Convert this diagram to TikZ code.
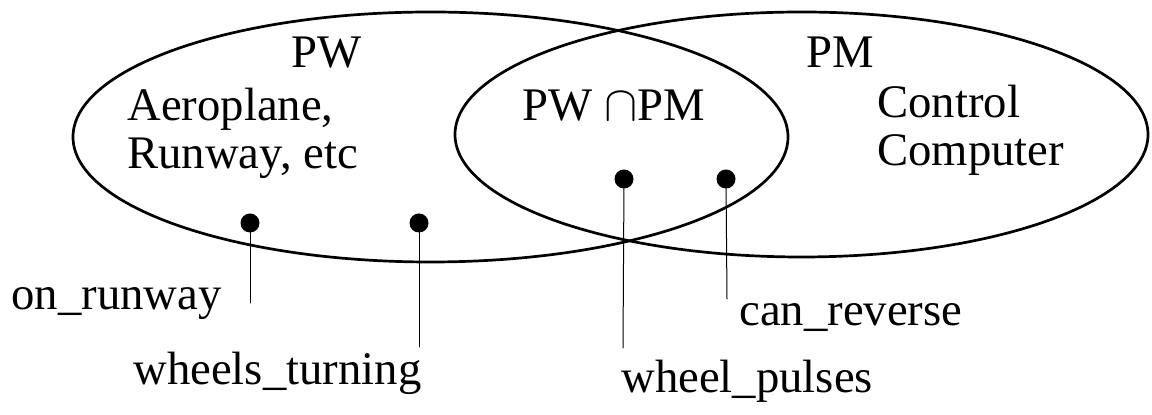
\documentclass[tikz,border=0pt]{standalone}
\usepackage{fontspec}
\setmainfont{Liberation Serif}
\usepackage{tikz}

\begin{document}
\begin{tikzpicture}[x=0.5pt,y=-0.5pt,line cap=round,line join=round,
  setline/.style={draw=black,line width=1.35pt},
  pin/.style={circle,fill=black,inner sep=0pt,minimum size=9.5pt},
  stem/.style={draw=black,line width=0.5pt},
  lbl/.style={font=\fontsize{23.35}{24}\selectfont,inner sep=0pt,anchor=base west,align=left}]
\path[use as bounding box] (0,0) rectangle (1152,415);
% the two sets
\draw[setline] (430.5,137) ellipse [x radius=357.5,y radius=125];
\draw[setline] (801.5,134.5) ellipse [x radius=346.5,y radius=122.5];
\node[lbl] (pw) at (291,68) {PW};
\node[lbl] (pm) at (806,68) {PM};
\node[lbl] (pwpm) at (522,121) {PW $\cap$PM};
\node[lbl] (world) at (127,169) {Aeroplane,\\Runway, etc};
\node[lbl] (machine) at (877,166) {Control\\Computer};
% phenomena
\node[pin] (onrw) at (250,223) {};
\node[pin] (wturn) at (419,223) {};
\node[pin] (wpuls) at (624,179) {};
\node[pin] (crev) at (726,179) {};
\coordinate (onrwend) at (250,303);
\coordinate (wturnend) at (419,347);
\coordinate (wpulsend) at (623,348);
\coordinate (crevend) at (727,299);
\draw[stem] (onrw.center) -- (onrwend);
\draw[stem] (wturn.center) -- (wturnend);
\draw[stem] (wpuls.center) -- (wpulsend);
\draw[stem] (crev.center) -- (crevend);
\node[lbl] (onrwlbl) at (11,310) {on\_runway};
\node[lbl] (wturnlbl) at (133,385) {wheels\_turning};
\node[lbl] (wpulslbl) at (621,393) {wheel\_pulses};
\node[lbl] (crevlbl) at (739,326) {can\_reverse};
\end{tikzpicture}
\end{document}
